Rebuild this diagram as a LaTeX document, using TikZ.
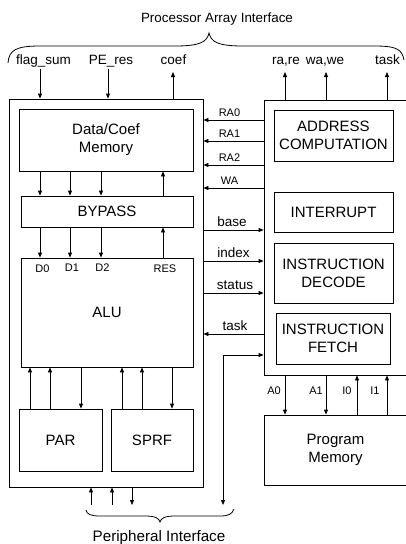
\documentclass[tikz,border=0pt]{standalone}
\usepackage{fontspec}
\setmainfont{Liberation Sans}
\usetikzlibrary{arrows.meta}
\begin{document}
\begin{tikzpicture}[x=1pt,y=-1pt, line width=0.8pt,
  box/.style={draw, rectangle, inner sep=0pt, align=center, font=\fontsize{15}{18}\selectfont},
  arr/.style={-{Triangle[length=5pt,width=4pt]}},
  biarr/.style={{Triangle[length=5pt,width=4pt]}-{Triangle[length=5pt,width=4pt]}},
  lbl/.style={inner sep=0pt, anchor=base, font=\fontsize{13.5}{16}\selectfont},
  sl/.style={inner sep=0pt, anchor=base, font=\fontsize{11}{13}\selectfont},
  big/.style={inner sep=0pt, anchor=base, font=\fontsize{15.2}{18}\selectfont}]
\useasboundingbox (0,0) rectangle (405,544);

% titles
\node[inner sep=0pt, anchor=base, font=\fontsize{13.4}{16}\selectfont] (title) at (217,22.5) {Processor Array Interface};
\node[big] (ptitle) at (159,541.5) {Peripheral Interface};

% braces
\draw (8,63) .. controls (9,50) and (16,46) .. (40,46) -- (175,46)
  .. controls (200,46) and (207,42) .. (209,33)
  .. controls (211,42) and (218,46) .. (243,46) -- (375,46)
  .. controls (398,46) and (402,50) .. (404,60);
\draw (86,510) .. controls (87,514) and (90,516) .. (100,516) -- (145,516)
  .. controls (155,516) and (159,518) .. (160,522)
  .. controls (161,518) and (165,516) .. (175,516) -- (220,516)
  .. controls (229,516) and (232,514) .. (234,509);

% left block
\node[box, minimum width=194pt, minimum height=388pt] (L) at (106,293) {};
\node[box, minimum width=174pt, minimum height=62pt] (mem) at (106,140) {Data/Coef\\Memory};
\node[box, minimum width=172pt, minimum height=31pt] (bypass) at (107,211.5) {BYPASS};
\node[box, minimum width=172pt, minimum height=109pt] (alu) at (107,312.5) {ALU};
\node[box, minimum width=83pt, minimum height=62pt] (par) at (60.5,440) {PAR};
\node[box, minimum width=82pt, minimum height=62pt] (sprf) at (152,440) {SPRF};

% right block
\node[box, minimum width=143pt, minimum height=275pt] (R) at (335.5,237.5) {};
\node[box, minimum width=119pt, minimum height=51pt] (addr) at (333.5,135.5) {ADDRESS\\COMPUTATION};
\node[box, minimum width=119pt, minimum height=40pt] (intr) at (333.5,212) {INTERRUPT};
\node[box, minimum width=119pt, minimum height=60pt] (dec) at (333.5,273) {INSTRUCTION\\DECODE};
\node[box, minimum width=114pt, minimum height=51pt] (fetch) at (333,338.5) {INSTRUCTION\\FETCH};
\node[box, minimum width=143pt, minimum height=70pt] (pm) at (335.5,450) {Program\\Memory};

% top interface labels and arrows
\node[lbl] (lflag) at (43.5,64.5) {flag\_sum};
\node[lbl] (lpe) at (111,64.5) {PE\_res};
\node[lbl] (lcoef) at (173.5,64.5) {coef};
\node[lbl] (lra) at (286,64.5) {ra,re};
\node[lbl] (lwa) at (325,64.5) {wa,we};
\node[lbl] (ltask) at (387.5,64.5) {task};
\coordinate (fsE) at (40,69);
\coordinate (peE) at (108,69);
\coordinate (coE) at (173,72);
\coordinate (raE) at (285,72);
\coordinate (waE) at (326,72);
\coordinate (tkE) at (387,72);
\draw[arr] (fsE) -- (fsE |- L.north);
\draw[arr] (peE) -- (peE |- L.north);
\draw[arr] (coE |- L.north) -- (coE);
\draw[arr] (raE |- R.north) -- (raE);
\draw[arr] (waE |- R.north) -- (waE);
\draw[arr] (tkE |- R.north) -- (tkE);

% memory / bypass / alu
\foreach \x in {40,70,101} {
  \draw[arr] (\x,0 |- mem.south) -- (\x,0 |- bypass.north);
  \draw[arr] (\x,0 |- bypass.south) -- (\x,0 |- alu.north);
}
\draw[arr] (163,0 |- bypass.north) -- (163,0 |- mem.south);
\draw[arr] (163,0 |- alu.north) -- (163,0 |- bypass.south);
\node[sl] (lD0) at (42.5,272) {D0};
\node[sl] (lD1) at (72,271) {D1};
\node[sl] (lD2) at (102.5,271) {D2};
\node[sl] (lRES) at (165,272.5) {RES};

% par / sprf
\draw[arr] (30,0 |- par.north) -- (30,0 |- alu.south);
\draw[arr] (50,0 |- par.north) -- (50,0 |- alu.south);
\draw[arr] (81,0 |- alu.south) -- (81,0 |- par.north);
\draw[arr] (122,0 |- sprf.north) -- (122,0 |- alu.south);
\draw[arr] (142,0 |- sprf.north) -- (142,0 |- alu.south);
\draw[arr] (172,0 |- alu.south) -- (172,0 |- sprf.north);

% between blocks
\foreach \y/\t in {120/RA0,141/RA1,165/RA2,188/WA} {
  \draw[arr] (R.west |- 0,\y) -- (L.east |- 0,\y);
  \node[sl] (lab\t) at (229.5,\y-4) {\t};
}
\foreach \y/\t/\c in {230/base/232,261/index/233.5,293/status/235} {
  \draw[arr] (L.east |- 0,\y) -- (R.west |- 0,\y);
  \node[lbl] (lab\t) at (\c,\y-3.5) {\t};
}
\draw[arr] (R.west |- 0,334) -- (L.east |- 0,334);
\node[lbl] (labtask) at (235,330.5) {task};

% peripheral
\coordinate (pfE) at (223,505);
\draw[biarr] (pfE) |- (R.west |- 0,355);
\coordinate (b1) at (91,505);
\coordinate (b2) at (112,505);
\coordinate (b3) at (132,505);
\draw[arr] (b1) -- (b1 |- L.south);
\draw[arr] (b2) -- (b2 |- L.south);
\draw[arr] (b3 |- L.south) -- (b3);

% program memory
\draw[arr] (285,0 |- R.south) -- (285,0 |- pm.north);
\draw[arr] (326,0 |- R.south) -- (326,0 |- pm.north);
\draw[arr] (357,0 |- pm.north) -- (357,0 |- R.south);
\draw[arr] (387,0 |- pm.north) -- (387,0 |- R.south);
\node[sl] (lA0) at (274,394) {A0};
\node[sl] (lA1) at (316,394) {A1};
\node[sl] (lI0) at (347,394) {I0};
\node[sl] (lI1) at (375,394) {I1};
\end{tikzpicture}
\end{document}
